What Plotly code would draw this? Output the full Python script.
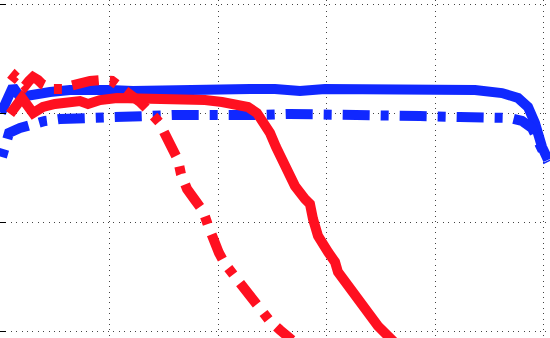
import plotly.graph_objects as go

# ---- data ----
blue_solid_x = [0.000, 0.046, 0.110, 0.175, 0.267, 0.451, 0.635, 0.838, 1.004, 1.215, 1.464,
                1.676, 1.989, 2.293, 2.523, 2.753, 2.983, 3.444, 3.904, 4.365, 4.613, 4.761,
                4.853, 4.917, 4.982, 5.037]
blue_solid_y = [2.000, 2.119, 2.239, 2.147, 2.165, 2.193, 2.211, 2.220, 2.211, 2.202, 2.211,
                2.211, 2.211, 2.220, 2.220, 2.202, 2.220, 2.211, 2.220, 2.211, 2.183, 2.138,
                2.055, 1.908, 1.688, 1.569]

blue_dash_x = [0.009, 0.046, 0.074, 0.175, 0.295, 0.405, 0.543, 0.727, 0.912, 1.142, 1.372,
               1.602, 1.832, 2.109, 2.385, 2.661, 2.937, 3.214, 3.490, 3.858, 4.227, 4.503,
               4.687, 4.797, 4.890, 4.963, 5.037]
blue_dash_y = [1.596, 1.697, 1.817, 1.862, 1.908, 1.927, 1.945, 1.954, 1.954, 1.963, 1.972,
               1.982, 1.982, 1.972, 1.982, 1.991, 1.982, 1.972, 1.972, 1.972, 1.963, 1.963,
               1.954, 1.927, 1.862, 1.706, 1.550]

red_solid_x = [0.083, 0.138, 0.193, 0.295, 0.387, 0.497, 0.608, 0.727, 0.801, 0.912, 1.068,
               1.215, 1.372, 1.529, 1.713, 1.878, 2.035, 2.164, 2.274, 2.357, 2.422, 2.477,
               2.532, 2.587, 2.643, 2.707, 2.799, 2.845, 2.873, 2.919, 3.011, 3.076, 3.103,
               3.195, 3.260, 3.287, 3.379, 3.471, 3.564, 3.656]
red_solid_y = [1.991, 2.073, 2.138, 2.000, 2.055, 2.083, 2.101, 2.110, 2.083, 2.119, 2.138,
               2.138, 2.119, 2.128, 2.138, 2.119, 2.101, 2.083, 2.055, 2.000, 1.917, 1.817,
               1.688, 1.569, 1.477, 1.330, 1.211, 1.165, 1.028, 0.872, 0.725, 0.633, 0.541,
               0.413, 0.339, 0.266, 0.156, 0.046, -0.046, -0.138]

red_dash_x = [0.092, 0.129, 0.175, 0.221, 0.258, 0.295, 0.341, 0.378, 0.470, 0.562, 0.635,
              0.700, 0.820, 0.930, 1.022, 1.096, 1.188, 1.280, 1.372, 1.455, 1.510, 1.575,
              1.630, 1.657, 1.713, 1.786, 1.860, 1.906, 1.952, 2.007, 2.063, 2.145, 2.219,
              2.293, 2.385, 2.468, 2.569, 2.680]
red_dash_y = [2.294, 2.339, 2.294, 2.248, 2.294, 2.330, 2.303, 2.266, 2.220, 2.220, 2.248,
              2.266, 2.294, 2.303, 2.294, 2.239, 2.183, 2.101, 2.009, 1.917, 1.807, 1.688,
              1.569, 1.440, 1.303, 1.202, 1.101, 0.972, 0.826, 0.716, 0.615, 0.514, 0.394,
              0.303, 0.202, 0.101, 0.009, -0.083]

BLUE = "rgb(16,40,255)"
RED = "rgb(255,16,32)"
DASHDOT = "8px,11px,27px,11px"
LW = 10

fig = go.Figure()
fig.add_trace(go.Scatter(x=blue_solid_x, y=blue_solid_y, mode="lines",
                         line=dict(color=BLUE, width=LW)))
fig.add_trace(go.Scatter(x=blue_dash_x, y=blue_dash_y, mode="lines",
                         line=dict(color=BLUE, width=LW, dash=DASHDOT)))
fig.add_trace(go.Scatter(x=red_solid_x, y=red_solid_y, mode="lines",
                         line=dict(color=RED, width=LW)))
fig.add_trace(go.Scatter(x=red_dash_x, y=red_dash_y, mode="lines",
                         line=dict(color=RED, width=LW, dash=DASHDOT)))

grid = dict(showgrid=True, gridcolor="#444", gridwidth=1, griddash="1px,4.4px",
            zeroline=False, showticklabels=False)

fig.update_layout(
    width=550, height=338,
    margin=dict(l=0, r=0, t=0, b=0),
    paper_bgcolor="white", plot_bgcolor="white",
    showlegend=False,
    xaxis=dict(range=[-0.00921, 5.0553], tick0=0, dtick=1, ticks="", **grid),
    yaxis=dict(range=[-0.0642, 3.0367], tick0=0, dtick=1, ticks="inside",
               ticklen=6, tickcolor="black", tickwidth=1, **grid),
)

fig.write_html("out.html")
